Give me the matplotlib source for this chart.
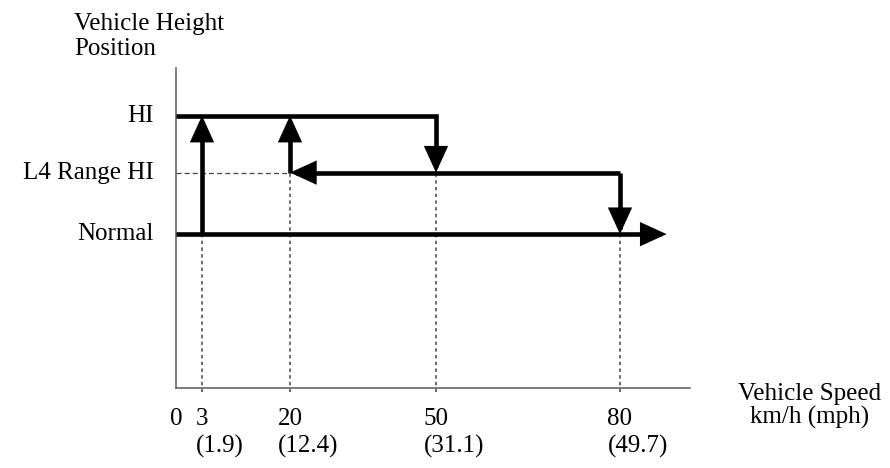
import numpy as np
import matplotlib
matplotlib.use("Agg")
import matplotlib.pyplot as plt
from matplotlib.patches import FancyArrowPatch
from matplotlib.path import Path
import matplotlib.transforms as mtransforms

# ---- data ----
speed_kmh = [0, 3, 20, 50, 80]
speed_mph = ["", "(1.9)", "(12.4)", "(31.1)", "(49.7)"]
level_names = ["Normal", "L4 Range HI", "HI"]
level_values = [1.0, 1.4, 1.77]
NORMAL, L4HI, HI = level_values

# ---- layout (non-linear, schematic x axis) ----
x_end = 91.4
arrow_end = 87.6
knots_speed = [0, 3, 20, 50, 80, x_end]
knots_pos = [0, 26, 114, 260, 444, 514]

def fwd(x):
    return np.interp(x, knots_speed, knots_pos)

def inv(p):
    return np.interp(p, knots_pos, knots_speed)

plt.rcParams['font.family'] = ['Liberation Serif', 'DejaVu Serif']

W, H = 890, 468
fig = plt.figure(figsize=(W/100, H/100), dpi=100)
ax = fig.add_axes([176/W, 1-388/H, 514/W, 320/H])
ax.set_xscale('function', functions=(fwd, inv))
ax.set_xlim(0, x_end)
ax.set_ylim(0, 2.08)

for s in ['top', 'right']:
    ax.spines[s].set_visible(False)
for s in ['left', 'bottom']:
    ax.spines[s].set_color('#666666')
    ax.spines[s].set_linewidth(1.2)

FS = 18
ax.set_yticks(level_values)
ax.set_yticklabels(level_names, fontsize=FS)
ax.tick_params(axis='y', length=0, pad=16)
for lab in ax.get_yticklabels():
    lab.set_verticalalignment('center')
ax.set_xticks([])

trans = mtransforms.blended_transform_factory(ax.transData, ax.transAxes)
for s, m in zip(speed_kmh, speed_mph):
    t = ax.text(s, (388-425)/320, str(s), transform=trans, ha='center',
                va='baseline', fontsize=FS)
    if m:
        ax.annotate(m, xy=(0, 0), xycoords=t, xytext=(0, -16.5),
                    textcoords='offset points', ha='left', va='baseline',
                    fontsize=FS, annotation_clip=False)

# guide lines
lvl_at = {3: NORMAL, 20: L4HI, 50: L4HI, 80: NORMAL}
for s in speed_kmh[1:]:
    ax.plot([s, s], [-0.025, lvl_at[s]], color='#444444', lw=1.1,
            linestyle=(0, (2.2, 2.2)), clip_on=False, zorder=1)
ax.plot([0, 20], [L4HI, L4HI], color='#444444', lw=0.9,
        linestyle=(0, (4, 2.5)), zorder=1)

lw = 3.3
style = dict(arrowstyle='-|>,head_length=0.68,head_width=0.31', mutation_scale=20,
             color='black', lw=lw, shrinkA=0, shrinkB=0, joinstyle='miter',
             capstyle='butt', zorder=3)

def arrow_path(pts):
    a = FancyArrowPatch(path=Path(pts), **style)
    ax.add_patch(a)

# Normal line to the right
arrow_path([(0, NORMAL), (arrow_end, NORMAL)])
# up at 3 km/h from Normal to HI
arrow_path([(3, NORMAL), (3, HI)])
# HI line to 50, down to L4 HI
arrow_path([(0, HI), (50, HI), (50, L4HI)])
# up at 20 from L4 HI to HI
arrow_path([(20, L4HI), (20, HI)])
# L4 HI from 80 back to 20
arrow_path([(80, L4HI), (20, L4HI)])
# 80 down to Normal
arrow_path([(80, L4HI), (80, NORMAL)])

fig.text(74/W, 1-30/H, "Vehicle Height", ha='left', va='baseline', fontsize=FS)
fig.text(74/W, 1-55/H, "Position", ha='left', va='baseline', fontsize=FS)
fig.text(810/W, 1-400/H, "Vehicle Speed", ha='center', va='baseline', fontsize=FS)
fig.text(810/W, 1-424/H, "km/h (mph)", ha='center', va='baseline', fontsize=FS)

fig.savefig("out.png", dpi=100)
